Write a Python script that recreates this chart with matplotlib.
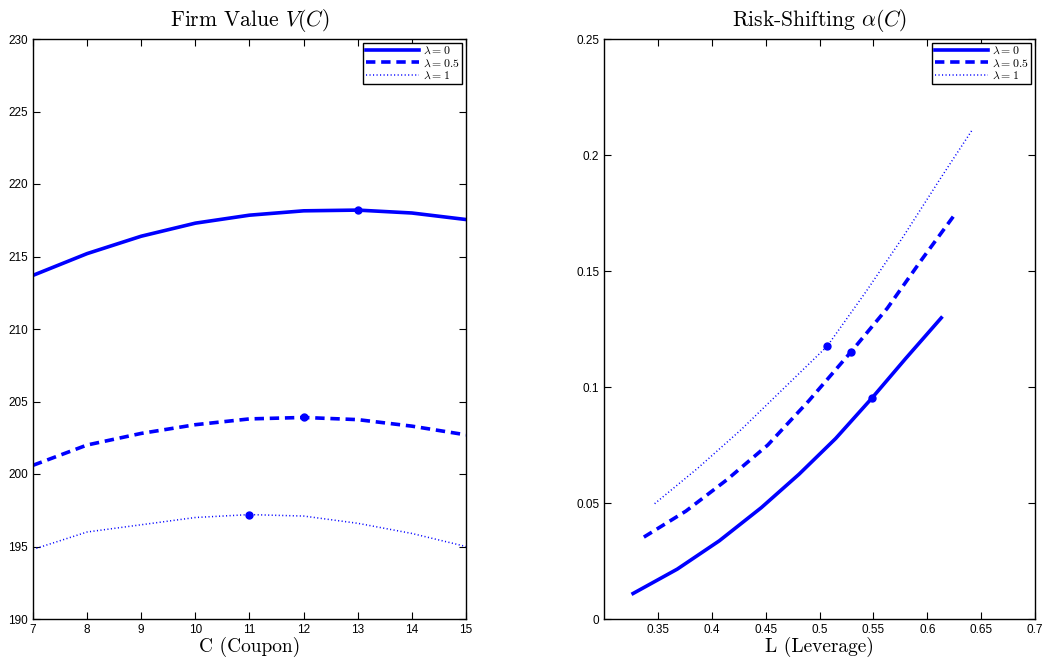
import matplotlib
matplotlib.use("Agg")
import matplotlib.pyplot as plt

plt.rcParams['mathtext.fontset'] = 'cm'
plt.rcParams['font.family'] = ['Liberation Sans', 'DejaVu Sans']

coupon = [7, 8, 9, 10, 11, 12, 13, 14, 15]
value_l0 = [213.7, 215.2, 216.4, 217.3, 217.85, 218.15, 218.2, 218.0, 217.55]
value_l05 = [200.6, 202.0, 202.8, 203.4, 203.8, 203.9, 203.75, 203.3, 202.7]
value_l1 = [194.8, 196.0, 196.5, 197.0, 197.2, 197.1, 196.6, 195.9, 195.0]

lev_l0 = [0.327, 0.368, 0.407, 0.446, 0.481, 0.515, 0.549, 0.580, 0.613]
alpha_l0 = [0.011, 0.0215, 0.0337, 0.048, 0.0624, 0.0778, 0.0954, 0.1123, 0.1298]
lev_l05 = [0.337, 0.376, 0.414, 0.452, 0.490, 0.529, 0.563, 0.595, 0.625]
alpha_l05 = [0.0353, 0.0465, 0.060, 0.075, 0.094, 0.115, 0.134, 0.155, 0.174]
lev_l1 = [0.347, 0.387, 0.427, 0.467, 0.507, 0.543, 0.578, 0.611, 0.642]
alpha_l1 = [0.0497, 0.065, 0.0815, 0.0995, 0.1175, 0.141, 0.165, 0.189, 0.211]

opt_idx = [6, 5, 4]  # optimal coupon index for each lambda
labels = [r'$\lambda = 0$', r'$\lambda = 0.5$', r'$\lambda = 1$']
styles = [('-', 2.6), ((0, (2.6, 1.6)), 2.6), ((0, (0.7, 1.6)), 1.1)]

fig = plt.figure(figsize=(10.49, 6.62), dpi=100)
ax1 = fig.add_axes([33 / 1049, 43 / 662, 433 / 1049, 580 / 662])
ax2 = fig.add_axes([604 / 1049, 43 / 662, 431 / 1049, 580 / 662])

left = [value_l0, value_l05, value_l1]
for i, y in enumerate(left):
    ls, lw = styles[i]
    ax1.plot(coupon, y, color='blue', linestyle=ls, linewidth=lw, label=labels[i])
for i, y in enumerate(left):
    ax1.plot(coupon[opt_idx[i]], y[opt_idx[i]], 'o', color='blue', markersize=5)

right = [(lev_l0, alpha_l0), (lev_l05, alpha_l05), (lev_l1, alpha_l1)]
for i, (x, y) in enumerate(right):
    ls, lw = styles[i]
    ax2.plot(x, y, color='blue', linestyle=ls, linewidth=lw, label=labels[i])
for i, (x, y) in enumerate(right):
    ax2.plot(x[opt_idx[i]], y[opt_idx[i]], 'o', color='blue', markersize=5)

ax1.set_xlim(7, 15)
ax1.set_ylim(190, 230)
ax1.set_xticks(range(7, 16))
ax1.set_yticks(range(190, 231, 5))

ax2.set_xlim(0.3, 0.7)
ax2.set_ylim(0, 0.25)
xt = [0.35, 0.4, 0.45, 0.5, 0.55, 0.6, 0.65, 0.7]
yt = [0, 0.05, 0.1, 0.15, 0.2, 0.25]
ax2.set_xticks(xt)
ax2.set_xticklabels(['%g' % v for v in xt])
ax2.set_yticks(yt)
ax2.set_yticklabels(['%g' % v for v in yt])

ax1.set_title(r'Firm Value $V(C)$', fontfamily='cmr10', fontsize=15.5, pad=9)
ax2.set_title(r'Risk-Shifting $\alpha(C)$', fontfamily='cmr10', fontsize=15.5, pad=9)
ax1.set_xlabel('C (Coupon)', fontfamily='cmr10', fontsize=14, labelpad=1)
ax2.set_xlabel('L (Leverage)', fontfamily='cmr10', fontsize=14, labelpad=1)

for ax in (ax1, ax2):
    ax.tick_params(direction='in', top=True, right=True, labelsize=8.5, length=5)
    for s in ax.spines.values():
        s.set_linewidth(1.0)
    leg = ax.legend(loc='upper right', fontsize=8.5, handlelength=4.5, borderpad=0.2,
                    labelspacing=0.05, handletextpad=0.4, fancybox=False,
                    framealpha=1, borderaxespad=0.3)
    leg.get_frame().set_edgecolor('black')
    leg.get_frame().set_linewidth(1.0)

fig.savefig('out.png', dpi=100)
